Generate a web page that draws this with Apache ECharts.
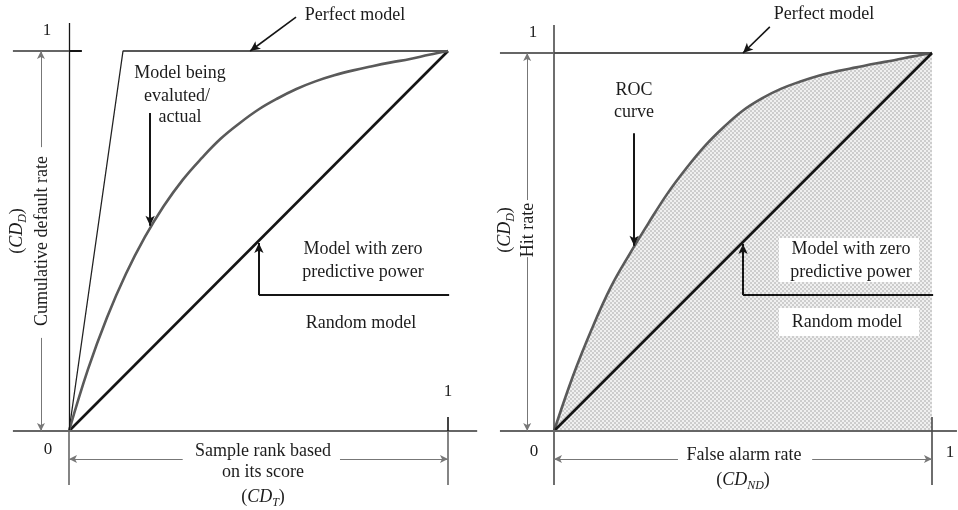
<!DOCTYPE html>
<html>
<head>
<meta charset="utf-8">
<script src="https://cdn.jsdelivr.net/npm/echarts@6/dist/echarts.min.js"></script>
<style>
  html, body { margin: 0; padding: 0; background: #fff; }
  #chart { width: 958px; height: 510px; }
</style>
</head>
<body>
<div id="chart"></div>
<script>
// Cumulative accuracy profile: share of defaulters captured vs. sample rank
const capRank    = [0, 0.05, 0.1, 0.15, 0.2, 0.25, 0.3, 0.35, 0.4, 0.45, 0.5,
                    0.55, 0.6, 0.65, 0.7, 0.75, 0.8, 0.85, 0.9, 0.95, 1];
const capDefault = [0, 0.162, 0.298, 0.413, 0.51, 0.592, 0.661, 0.718, 0.769, 0.81, 0.846,
                    0.875, 0.9, 0.92, 0.936, 0.949, 0.96, 0.97, 0.979, 0.99, 1];

// ROC curve: hit rate vs. false alarm rate
const rocFalseAlarm = [0, 0.05, 0.1, 0.15, 0.2, 0.25, 0.3, 0.35, 0.4, 0.45, 0.5,
                       0.55, 0.6, 0.65, 0.7, 0.75, 0.8, 0.85, 0.9, 0.95, 1];
const rocHit        = [0, 0.145, 0.27, 0.38, 0.468, 0.55, 0.628, 0.695, 0.755, 0.805, 0.848,
                       0.88, 0.905, 0.924, 0.94, 0.952, 0.962, 0.972, 0.981, 0.991, 1];

// Random model (zero predictive power)
const randomX = [0, 1];
const randomY = [0, 1];

// Perfect models
const perfectCapX = [0, 0.1425, 1];
const perfectCapY = [0, 1, 1];
const perfectRocX = [0, 1];
const perfectRocY = [1, 1];

// Axis end labels
const tickLabels = ['0', '1'];

const pairs = (xs, ys) => xs.map((x, i) => [x, ys[i]]);

const SERIF = "'Liberation Serif', 'DejaVu Serif', serif";
const INK = '#1c1c1c';
const DARK = '#151515';
const GRAY = '#666666';
const CURVE = '#5a5a5a';

// Stippled fill for the area under the ROC curve
const stipple = document.createElement('canvas');
stipple.width = 4; stipple.height = 4;
(function () {
  const c = stipple.getContext('2d');
  c.fillStyle = '#f0f0f0'; c.fillRect(0, 0, 4, 4);
  c.fillStyle = '#cdcdcd'; c.fillRect(0, 0, 2, 2); c.fillRect(2, 2, 2, 2);
})();

function seg(x1, y1, x2, y2, color, width, arrow, size) {
  return [
    { coord: [x1, y1], symbol: 'none', lineStyle: { color: color, width: width, type: 'solid', opacity: 1 } },
    { coord: [x2, y2], symbol: arrow ? 'arrow' : 'none', symbolSize: size || 9 }
  ];
}

function guides(gridIdx, lines) {
  return {
    type: 'line', xAxisIndex: gridIdx, yAxisIndex: gridIdx, data: [], silent: true,
    markLine: {
      silent: true, animation: false, symbol: ['none', 'none'],
      label: { show: false }, emphasis: { disabled: true },
      data: lines
    }
  };
}

function text(x, y, s, size, extra) {
  return Object.assign({
    type: 'text', x: x, y: y, z: 100,
    style: { text: s, font: (size || 18) + 'px ' + SERIF, fill: INK, align: 'center', verticalAlign: 'middle' }
  }, extra || {});
}

function cdText(x, y, sub, rotate) {
  return {
    type: 'text', x: x, y: y, z: 100, rotation: rotate ? Math.PI / 2 : 0,
    style: {
      text: '{p|(}{i|CD}{s|' + sub + '}{p|)}',
      align: 'center', verticalAlign: 'middle',
      rich: {
        p: { font: '18px ' + SERIF, fill: INK, lineHeight: 24 },
        i: { font: 'italic 18px ' + SERIF, fill: INK, lineHeight: 24 },
        s: { font: 'italic 12px ' + SERIF, fill: INK, lineHeight: 13, verticalAlign: 'bottom' }
      }
    }
  };
}

function lineSeries(gridIdx, data, color, width, extra) {
  return Object.assign({
    type: 'line', xAxisIndex: gridIdx, yAxisIndex: gridIdx, data: data,
    showSymbol: false, symbol: 'none', silent: true,
    lineStyle: { color: color, width: width }
  }, extra || {});
}

const axisOpt = (gridIdx, max) => ({
  type: 'value', gridIndex: gridIdx, min: -0.15, max: max, show: false,
  splitLine: { show: false }
});

const chart = echarts.init(document.getElementById('chart'), null, { renderer: 'canvas' });

chart.setOption({
  animation: false,
  backgroundColor: '#ffffff',
  grid: [
    { left: 12.15, top: 13, width: 473.75, height: 475 },
    { left: 497.3, top: 15.2, width: 460.4, height: 472.5 }
  ],
  xAxis: [axisOpt(0, 1.1), axisOpt(1, 1.068)],
  yAxis: [axisOpt(0, 1.1), axisOpt(1, 1.1)],
  series: [
    // ---- left panel: CAP ----
    guides(0, [
      seg(0, 0, 0, 1.074, DARK, 1.3),
      seg(0, -0.142, 0, 0, GRAY, 1.6),
      seg(-0.148, 0, 1.077, 0, GRAY, 2),
      seg(-0.148, 1, 0, 1, GRAY, 2),
      seg(0, 1, 0.034, 1, DARK, 2),
      seg(1, 0.037, 1, 0, DARK, 1.6),
      seg(1, 0, 1, -0.142, GRAY, 1.6),
      seg(-0.074, 0.747, -0.074, 1, '#777', 1, true, [6, 8]),
      seg(-0.074, 0.245, -0.074, 0, '#777', 1, true, [6, 8]),
      seg(0.30, -0.074, 0, -0.074, '#777', 1, true, [6, 8]),
      seg(0.715, -0.074, 1, -0.074, '#777', 1, true, [6, 8]),
      seg(0.599, 1.089, 0.478, 1.0, DARK, 1.6, true, [7, 10]),
      seg(0.214, 0.837, 0.214, 0.54, DARK, 2, true, [7, 10]),
      seg(1.003, 0.358, 0.501, 0.358, DARK, 2),
      seg(0.501, 0.358, 0.501, 0.495, DARK, 2, true, [7, 10])
    ]),
    lineSeries(0, pairs(perfectCapX, perfectCapY), '#222222', 1.3),
    lineSeries(0, pairs(randomX, randomY), DARK, 2.6),
    lineSeries(0, pairs(capRank, capDefault), CURVE, 2.6, { smooth: 0.4 }),

    // ---- right panel: ROC ----
    lineSeries(1, pairs(rocFalseAlarm, rocHit), CURVE, 2.6, {
      smooth: 0.4, z: 3,
      areaStyle: { color: { image: stipple, repeat: 'repeat' }, opacity: 1, origin: 'auto' }
    }),
    guides(1, [
      seg(0, -0.143, 0, 1.074, '#4a4a4a', 1.6),
      seg(-0.143, 0, 1.066, 0, GRAY, 2),
      seg(-0.143, 1, 0, 1, GRAY, 2),
      seg(1, 0.037, 1, -0.143, '#4a4a4a', 1.6),
      seg(-0.071, 0.611, -0.071, 1, '#777', 1, true, [6, 8]),
      seg(-0.071, 0.46, -0.071, 0, '#777', 1, true, [6, 8]),
      seg(0.328, -0.074, 0, -0.074, '#777', 1, true, [6, 8]),
      seg(0.683, -0.074, 1, -0.074, '#777', 1, true, [6, 8]),
      seg(0.571, 1.069, 0.5, 1.0, DARK, 1.6, true, [7, 10]),
      seg(0.212, 0.788, 0.212, 0.49, DARK, 2, true, [7, 10]),
      seg(1.003, 0.36, 0.5, 0.36, DARK, 2),
      seg(0.5, 0.36, 0.5, 0.495, DARK, 2, true, [7, 10])
    ]),
    lineSeries(1, pairs(perfectRocX, perfectRocY), '#555555', 2, { z: 4 }),
    lineSeries(1, pairs(randomX, randomY), DARK, 2.6, { z: 4 })
  ],
  graphic: [
    // left panel text
    text(47, 31, tickLabels[1], 17),
    text(48, 450, tickLabels[0], 17),
    text(448, 392, tickLabels[1], 17),
    text(355, 15, 'Perfect model'),
    text(180, 73, 'Model being'),
    text(177, 96, 'evaluted/'),
    text(180, 117, 'actual'),
    text(363, 249, 'Model with zero'),
    text(363, 272, 'predictive power'),
    text(361, 323, 'Random model'),
    text(263, 451, 'Sample rank based'),
    text(263, 472, 'on its score'),
    cdText(263, 497, 'T', false),
    text(42, 241, 'Cumulative default rate', 18, { rotation: Math.PI / 2 }),
    cdText(17, 231, 'D', true),

    // right panel label boxes
    { type: 'rect', z: 90, shape: { x: 779, y: 238, width: 140, height: 44 }, style: { fill: '#ffffff' } },
    { type: 'rect', z: 90, shape: { x: 779, y: 308, width: 140, height: 28 }, style: { fill: '#ffffff' } },

    // right panel text
    text(533, 33, tickLabels[1], 17),
    text(534, 452, tickLabels[0], 17),
    text(950, 453, tickLabels[1], 17),
    text(824, 14, 'Perfect model'),
    text(634, 90, 'ROC'),
    text(634, 112, 'curve'),
    text(851, 249, 'Model with zero'),
    text(851, 272, 'predictive power'),
    text(847, 322, 'Random model'),
    text(744, 455, 'False alarm rate'),
    cdText(743, 480, 'ND', false),
    text(528, 230, 'Hit rate', 18, { rotation: Math.PI / 2 }),
    cdText(505, 230, 'D', true)
  ]
});
</script>
</body>
</html>
